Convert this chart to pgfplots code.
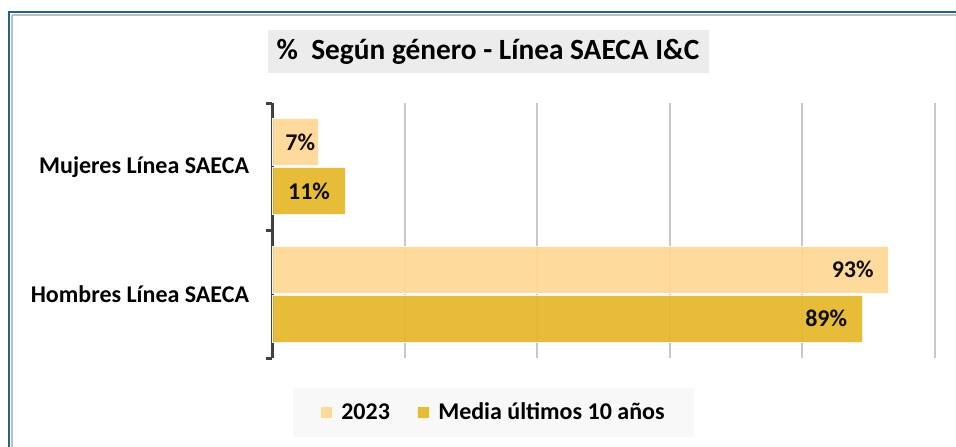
\documentclass[border=0pt]{standalone}
\usepackage{fontspec}
\setmainfont{Carlito}
\usepackage{pgfplots}
\pgfplotsset{compat=1.18}
\definecolor{lightbar}{RGB}{255,215,150}
\definecolor{darkbar}{RGB}{228,183,41}
\definecolor{framecol}{RGB}{31,100,140}
\definecolor{titlebg}{RGB}{236,236,236}
\definecolor{legbg}{RGB}{248,248,248}
\definecolor{gridcol}{RGB}{200,200,200}
\definecolor{axcol}{RGB}{64,64,64}
\begin{document}
\begin{tikzpicture}
\path[use as bounding box] (0pt,0pt) rectangle (717pt,-334.5pt);
\begin{scope}[x=0.75pt,y=-0.75pt]
\draw[black!25, line width=1.5pt] (11.5,14.5) -- (11.5,470);
\draw[black!25, line width=1.5pt] (11.5,14.5) -- (980,14.5);
\draw[framecol, line width=1.6pt] (9,12) rectangle (975,470);
\fill[titlebg] (268,30) rectangle (709,73);
\node[font=\bfseries\fontsize{22}{26}\selectfont, anchor=center, inner sep=0pt] at (488,52) {\%\ \ Según género - Línea SAECA I\&C};
\end{scope}
\begin{axis}[
  at={(204pt,-268.5pt)}, anchor=south west,
  width=497.25pt, height=191.25pt, scale only axis,
  xbar, xmin=0, xmax=100, ymin=-0.5, ymax=1.5,
  bar width=35.25pt,
  separate axis lines,
  axis x line=bottom,
  axis y line=left,
  x axis line style={draw=none},
  y axis line style={-, axcol, line width=2.25pt},
  xtick={0,20,40,60,80,100}, xticklabels={},
  xmajorgrids, major x grid style={gridcol, line width=1.5pt},
  ytick={0,1},
  yticklabels={Hombres Línea SAECA, Mujeres Línea SAECA},
  major tick length=0pt,
  yticklabel style={font=\bfseries\fontsize{18}{21}\selectfont, inner sep=0pt, xshift=-17pt},
  extra y ticks={-0.5,0.5,1.5},
  extra y tick labels={},
  extra y tick style={major tick length=4.5pt, tick align=outside, grid=none, tick style={axcol, line width=2.25pt}},
  /pgf/number format/assume math mode=true,
  visualization depends on={rawx \as \rawx},
  nodes near coords={\pgfmathprintnumber{\pgfplotspointmeta}\%},
  every node near coord/.append style={anchor=east, inner sep=0pt, font=\bfseries\fontsize{18}{21}\selectfont, text=black, xshift={ifthenelse(\rawx<10,-2.25,-11)}},
  legend style={at={(0.334,-0.2137)}, anchor=center, fill=legbg, draw=none,
    legend columns=2, font=\bfseries\fontsize{18}{21}\selectfont,
    inner xsep=20pt, inner ysep=9pt,
    /tikz/every odd column/.append style={column sep=4.5pt},
    /tikz/every even column/.append style={column sep=18pt}},
  legend image code/.code={\fill[#1] (0pt,-4.5pt) rectangle (9.25pt,4.75pt);},
]
\addplot[fill=lightbar, fill opacity=0.93, draw=white!85!lightbar, line width=0.5pt, bar shift=18.4pt] coordinates {(93,0) (7,1)};
\addplot[fill=darkbar, fill opacity=0.93, draw=white!85!darkbar, line width=0.5pt, bar shift=-18.4pt] coordinates {(89,0) (11,1)};
\legend{2023, Media últimos 10 años}
\end{axis}
\end{tikzpicture}
\end{document}
